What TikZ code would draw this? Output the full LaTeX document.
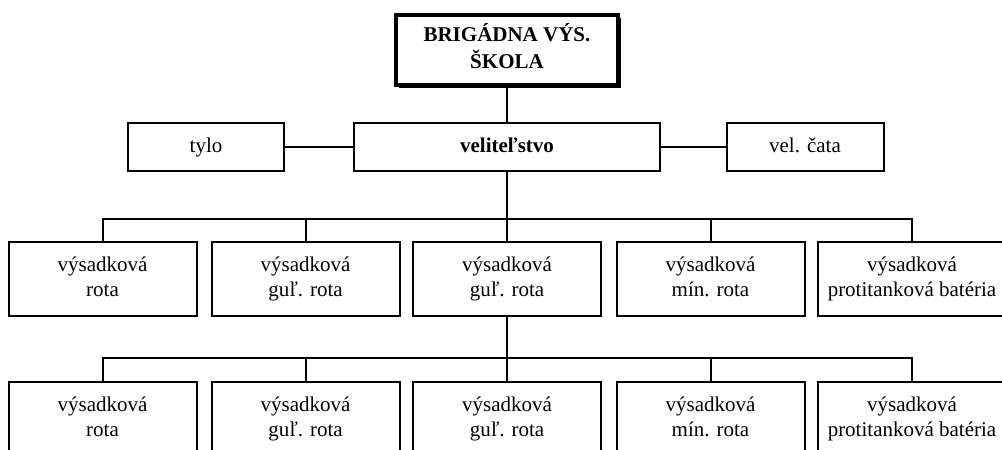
\documentclass[tikz,border=0pt]{standalone}
\usepackage{fontspec}
\setmainfont{Liberation Serif}
\usepackage{tikz}
\usetikzlibrary{
    positioning,
    shadows
}

\begin{document}
\begin{tikzpicture}[
    x=1pt, y=-1pt,
    unit/.style={
        rectangle, draw, line width=2pt,
        minimum width=188pt, minimum height=74pt,
        inner sep=0pt, align=center,
        font=\fontsize{21}{25}\selectfont
    },
    staff/.style={
        rectangle, draw, line width=2pt,
        minimum height=48pt, inner sep=0pt,
        font=\fontsize{21}{25}\selectfont
    },
    link/.style={line width=2pt}
]

\useasboundingbox (0,0) rectangle (1002,450);
\clip (0,0) rectangle (1002,450);

% Head
\node[rectangle, draw, line width=4pt, fill=white,
      minimum width=222pt, minimum height=70pt, align=center,
      font=\fontsize{21}{25}\selectfont\bfseries,
      drop shadow={shadow xshift=3pt, shadow yshift=-3pt, opacity=1, fill=black}]
      (skola) at (507,50) {\strut BRIGÁDNA VÝS.\\\strut ŠKOLA};

% Command level
\node[staff, minimum width=306pt, font=\fontsize{21}{25}\selectfont\bfseries] (vel) at (507,147) {\strut veliteľstvo};
\node[staff, minimum width=156pt] (tylo) at (206,147) {\strut tylo};
\node[staff, minimum width=157pt] (cata) at (805,147) {\strut vel. čata};

% Companies (two rows)
\foreach \n/\x/\la/\lb in {a/102.5/výsadková/rota,
                           b/305.5/výsadková/guľ. rota,
                           c/507/výsadková/guľ. rota,
                           d/710.5/výsadková/mín. rota,
                           e/912/výsadková/protitanková batéria} {
    \node[unit] (top\n) at (\x,279) {\strut\la\\\strut\lb};
    \node[unit] (bot\n) at (\x,419) {\strut\la\\\strut\lb};
}

% Buses
\coordinate (bus1) at (507,219);
\coordinate (bus2) at (507,358);

% Links
\draw[link] (skola) -- (vel);
\draw[link] (tylo) -- (vel);
\draw[link] (vel) -- (cata);
\draw[link] (vel) -- (bus1);
\draw[link] (topa.north) |- (tope.north |- bus1) -- (tope.north);
\draw[link] (topc.south) -- (bus2);
\draw[link] (bota.north) |- (bote.north |- bus2) -- (bote.north);
\foreach \n in {b,c,d} {
    \draw[link] (top\n.north) -- (top\n.north |- bus1);
    \draw[link] (bot\n.north) -- (bot\n.north |- bus2);
}

\end{tikzpicture}
\end{document}
